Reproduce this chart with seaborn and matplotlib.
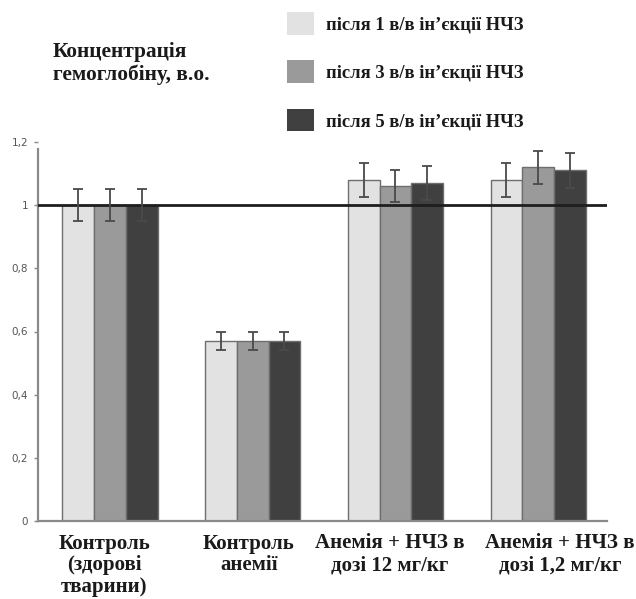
import matplotlib
matplotlib.use("Agg")
import matplotlib.pyplot as plt
import matplotlib.transforms as mtransforms
import numpy as np
import pandas as pd
import seaborn as sns

# Hemoglobin concentration (relative units) per group and injection count
groups = [
    "Контроль\n(здорові\nтварини)",
    "Контроль\nанемії",
    "Анемія + НЧЗ в\nдозі 12 мг/кг",
    "Анемія + НЧЗ в\nдозі 1,2 мг/кг",
]
series = [
    "після 1 в/в ін’єкції НЧЗ",
    "після 3 в/в ін’єкції НЧЗ",
    "після 5 в/в ін’єкції НЧЗ",
]
after_1 = [1.00, 0.57, 1.08, 1.08]
after_3 = [1.00, 0.57, 1.06, 1.12]
after_5 = [1.00, 0.57, 1.07, 1.11]
err_1 = [0.05, 0.03, 0.055, 0.055]
err_3 = [0.05, 0.03, 0.050, 0.053]
err_5 = [0.05, 0.03, 0.054, 0.056]
y_ticks = [0, 0.2, 0.4, 0.6, 0.8, 1.0, 1.2]
y_tick_labels = ["0", "0,2", "0,4", "0,6", "0,8", "1", "1,2"]
reference_level = 1.0

colors = ["#e2e2e2", "#9a9a9a", "#404040"]
serif = ["Liberation Serif", "DejaVu Serif"]

df = pd.DataFrame({
    "group": groups * 3,
    "series": [s for s in series for _ in groups],
    "value": after_1 + after_3 + after_5,
    "err": err_1 + err_3 + err_5,
})

sns.set_theme(style="white")
fig = plt.figure(figsize=(6.36, 5.99), dpi=100)
ax = fig.add_axes([38 / 636, 1 - 521 / 599, (607 - 38) / 636, (521 - 142) / 599])

sns.barplot(
    data=df, x="group", y="value", hue="series", order=groups, hue_order=series,
    palette=colors, width=0.667, gap=0, errorbar=None, edgecolor="#6e6e6e",
    linewidth=1.0, saturation=1, ax=ax, zorder=2,
)

# error bars on every bar, positioned from the drawn patches
for container, s in zip(ax.containers, series):
    sub = df[df["series"] == s].set_index("group").loc[groups]
    xs = [p.get_x() + p.get_width() / 2 for p in container.patches]
    hs = [p.get_height() for p in container.patches]
    ax.errorbar(xs, hs, yerr=sub["err"].values, fmt="none", ecolor="#4a4a4a",
                elinewidth=1.3, capsize=3.5, capthick=1.3, zorder=4)

ax.axhline(reference_level, color="#1e1e1e", lw=2, zorder=3)

ax.set_ylim(0, 1.2)
ax.set_xlim(-0.505, 3.483)
ax.set_yticks(y_ticks)
ax.set_yticklabels(y_tick_labels, fontsize=7.5, color="#555555")
ax.tick_params(axis="y", which="major", left=True, length=3, width=1,
               color="#888888", pad=4, direction="out")
ax.tick_params(axis="x", length=0, pad=9)
ax.set_xlabel("")
ax.set_ylabel("")
for side in ["top", "right"]:
    ax.spines[side].set_visible(False)
for side in ["left", "bottom"]:
    ax.spines[side].set_color("#8a8a8a")
    ax.spines[side].set_linewidth(1.6)
ax.spines["left"].set_bounds(0, 1.178)

ax.set_xticks(range(len(groups)))
ax.set_xticklabels(groups, fontsize=15, fontweight="bold", family=serif,
                   color="#1a1a1a", linespacing=1.13)
shifts = [-6, -4, -6, 22]
for lbl, dx in zip(ax.get_xticklabels(), shifts):
    lbl.set_transform(lbl.get_transform() +
                      mtransforms.ScaledTranslation(dx / 100, 0, fig.dpi_scale_trans))

fig.text(53 / 636, 1 - 42 / 599, "Концентрація\nгемоглобіну, в.о.",
         ha="left", va="top", fontsize=15.4, fontweight="bold", family=serif,
         color="#1a1a1a", linespacing=1.15)

sns.move_legend(
    ax, "upper left", bbox_to_anchor=(287 / 636, 1 - 12 / 599),
    bbox_transform=fig.transFigure, frameon=False, title=None,
    borderpad=0, borderaxespad=0,
    handlelength=1.46, handleheight=1.5, handletextpad=0.65, labelspacing=1.4,
    prop={"family": serif, "weight": "bold", "size": 13.3},
)
for t in ax.get_legend().get_texts():
    t.set_color("#1a1a1a")
for h in ax.get_legend().legend_handles:
    h.set_edgecolor("none")

fig.savefig("out.png", dpi=100, facecolor="white")
